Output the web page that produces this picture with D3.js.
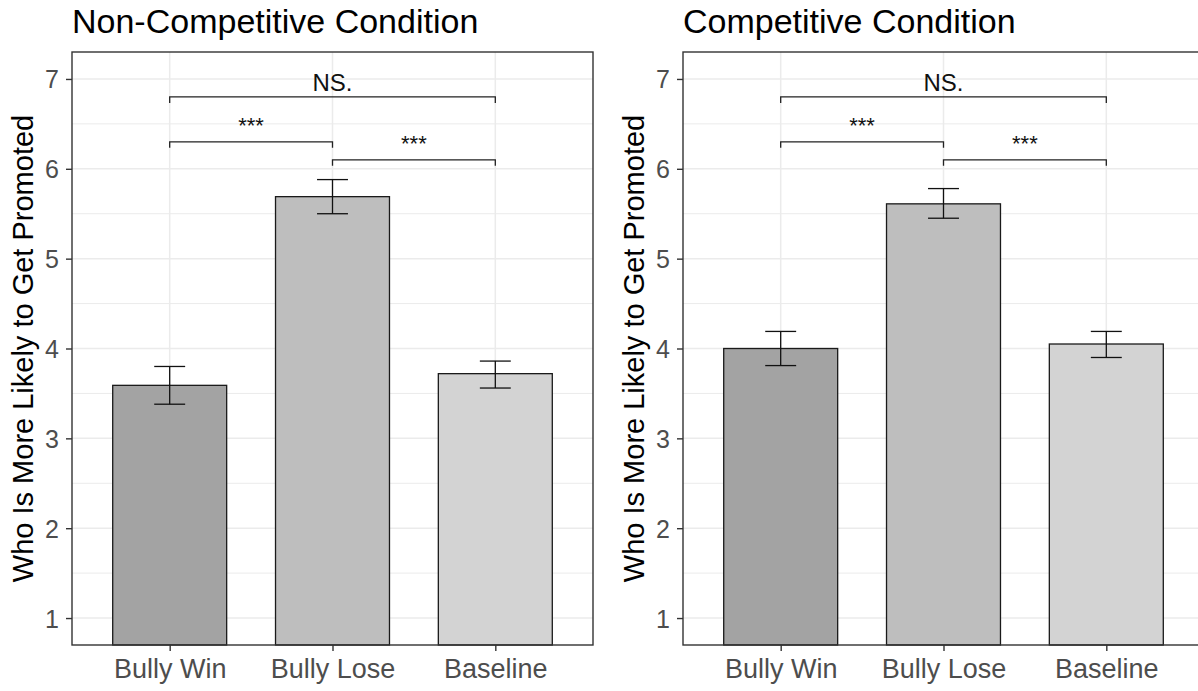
<!DOCTYPE html>
<html lang="en">
<head>
  <meta charset="UTF-8">
  <title>promotion-bars</title>
  <script src="https://cdn.jsdelivr.net/npm/d3@7"></script>
  <style>
    body { margin: 0; background: #fff; }
    svg { display: block; font-family: "Liberation Sans", Arial, sans-serif; }
  </style>
</head>
<body>
<script>
  // data
  var categories = ["Bully Win", "Bully Lose", "Baseline"];
  var panelTitles = ["Non-Competitive Condition", "Competitive Condition"];

  var nonCompMean = [3.59, 5.69, 3.72];
  var nonCompLow = [3.38, 5.50, 3.56];
  var nonCompHigh = [3.80, 5.88, 3.86];

  var compMean = [4.00, 5.61, 4.05];
  var compLow = [3.81, 5.45, 3.90];
  var compHigh = [4.19, 5.78, 4.19];

  var yTicks = [1, 2, 3, 4, 5, 6, 7];
  var yMinor = [1.5, 2.5, 3.5, 4.5, 5.5, 6.5];

  // significance brackets (same for both panels)
  var sigFrom = [0, 0, 1];
  var sigTo = [2, 1, 2];
  var sigY = [6.8, 6.3, 6.1];
  var sigLabel = ["NS.", "***", "***"];

  var fills = ["#a3a3a3", "#bebebe", "#d3d3d3"];

  var W = 1198, H = 691;
  var panelW = 521;
  var plotTop = 52, plotBottom = 645;

  var svg = d3.select("body").append("svg").attr("width", W).attr("height", H);

  var y = d3.scaleLinear().domain([0.7, 7.3]).range([plotBottom, plotTop]);

  function drawPanel(left, title, mean, low, high) {
    var x = d3.scalePoint().domain(categories).range([left, left + panelW]).padding(0.6);
    var step = x.step();
    var g = svg.append("g");

    // grid
    g.selectAll(".minor").data(yMinor).enter().append("line")
      .attr("x1", left).attr("x2", left + panelW)
      .attr("y1", function (d) { return y(d) }).attr("y2", function (d) { return y(d) })
      .attr("stroke", "#ebebeb").attr("stroke-width", 1);
    g.selectAll(".major").data(yTicks).enter().append("line")
      .attr("x1", left).attr("x2", left + panelW)
      .attr("y1", function (d) { return y(d) }).attr("y2", function (d) { return y(d) })
      .attr("stroke", "#ebebeb").attr("stroke-width", 1.5);
    g.selectAll(".vgrid").data(categories).enter().append("line")
      .attr("x1", function (d) { return x(d) }).attr("x2", function (d) { return x(d) })
      .attr("y1", plotTop).attr("y2", plotBottom)
      .attr("stroke", "#ebebeb").attr("stroke-width", 1.5);

    // bars
    var bw = step * 0.7;
    g.selectAll(".bar").data(categories).enter().append("rect")
      .attr("x", function (d) { return x(d) - bw / 2 })
      .attr("y", function (d, i) { return y(mean[i]) })
      .attr("width", bw)
      .attr("height", function (d, i) { return plotBottom - y(mean[i]) })
      .attr("fill", function (d, i) { return fills[i] })
      .attr("stroke", "#1a1a1a").attr("stroke-width", 1.3);

    // error bars
    var cw = step * 0.19;
    categories.forEach(function (c, i) {
      var cx = x(c);
      g.append("line").attr("x1", cx).attr("x2", cx)
        .attr("y1", y(low[i])).attr("y2", y(high[i]))
        .attr("stroke", "#111").attr("stroke-width", 1.3);
      [low[i], high[i]].forEach(function (v) {
        g.append("line").attr("x1", cx - cw / 2).attr("x2", cx + cw / 2)
          .attr("y1", y(v)).attr("y2", y(v))
          .attr("stroke", "#111").attr("stroke-width", 1.3);
      });
    });

    // significance brackets
    sigLabel.forEach(function (lab, i) {
      var x1 = x(categories[sigFrom[i]]), x2 = x(categories[sigTo[i]]);
      var yy = y(sigY[i]);
      var isNS = lab == "NS.";
      g.append("path")
        .attr("d", "M" + x1 + "," + (yy + 6) + "V" + yy + "H" + x2 + "V" + (yy + 6))
        .attr("fill", "none").attr("stroke", "#222").attr("stroke-width", 1.3);
      g.append("text")
        .attr("x", (x1 + x2) / 2).attr("y", yy - (isNS ? 6 : 9))
        .attr("text-anchor", "middle")
        .attr("font-size", isNS ? 24 : 22)
        .attr("fill", "#111")
        .text(lab);
    });

    // panel border
    g.append("rect").attr("x", left).attr("y", plotTop)
      .attr("width", panelW).attr("height", plotBottom - plotTop)
      .attr("fill", "none").attr("stroke", "#333").attr("stroke-width", 1.4);

    // axes
    var yAxis = d3.axisLeft(y).tickValues(yTicks).tickSize(6).tickPadding(7).tickFormat(d3.format("d"));
    var ya = g.append("g").attr("transform", "translate(" + left + ",0)").call(yAxis);
    ya.select(".domain").remove();
    ya.selectAll("line").attr("stroke", "#333").attr("stroke-width", 1.4);
    ya.selectAll("text").attr("font-size", 25).attr("fill", "#4d4d4d")
      .attr("font-family", "Liberation Sans, Arial, sans-serif").attr("dy", "0.36em");

    var xAxis = d3.axisBottom(x).tickSize(6).tickPadding(8);
    var xa = g.append("g").attr("transform", "translate(0," + plotBottom + ")").call(xAxis);
    xa.select(".domain").remove();
    xa.selectAll("line").attr("stroke", "#333").attr("stroke-width", 1.4);
    xa.selectAll("text").attr("font-size", 27).attr("fill", "#4d4d4d")
      .attr("font-family", "Liberation Sans, Arial, sans-serif");

    // y title
    g.append("text")
      .attr("transform", "translate(" + (left - 39) + "," + ((plotTop + plotBottom) / 2) + ") rotate(-90)")
      .attr("text-anchor", "middle")
      .attr("font-size", 29).attr("fill", "#000")
      .text("Who Is More Likely to Get Promoted");

    // panel title
    g.append("text").attr("x", left).attr("y", 33)
      .attr("font-size", 34).attr("fill", "#000")
      .text(title);
  }

  drawPanel(72, panelTitles[0], nonCompMean, nonCompLow, nonCompHigh);
  drawPanel(683, panelTitles[1], compMean, compLow, compHigh);
</script>
</body>
</html>
